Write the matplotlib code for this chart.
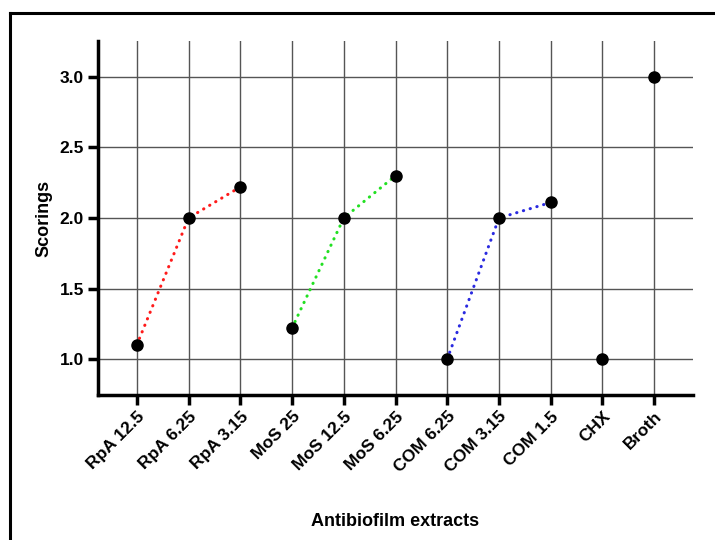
import matplotlib
matplotlib.use('Agg')
import matplotlib.pyplot as plt
from matplotlib.lines import Line2D

plt.rcParams['font.family'] = ['Liberation Sans', 'DejaVu Sans']
plt.rcParams['font.weight'] = 'bold'

# categories and scores
labels = ['RpA 12.5', 'RpA 6.25', 'RpA 3.15', 'MoS 25', 'MoS 12.5', 'MoS 6.25',
          'COM 6.25', 'COM 3.15', 'COM 1.5', 'CHX', 'Broth']
scores = [1.1, 2.0, 2.22, 1.22, 2.0, 2.3, 1.0, 2.0, 2.11, 1.0, 3.0]

# groups joined by dotted lines
groups = [(0, 3, '#ff1a1a'), (3, 6, '#22e022'), (6, 9, '#2a2ae0')]

fig = plt.figure(figsize=(7.15, 5.4), dpi=100)
ax = fig.add_axes([98/715, 1 - 395/540, (693 - 98)/715, (395 - 41)/540])

xs = list(range(len(labels)))

ax.grid(True, color='#555555', lw=1)
ax.set_axisbelow(True)

for a, b, c in groups:
    ax.plot(xs[a:b], scores[a:b], color=c, lw=2.2, linestyle=(0, (0.1, 2.2)),
            dash_capstyle='round', zorder=3)

ax.plot(xs, scores, 'o', color='black', ms=8, ls='none', zorder=4)

ax.set_xlim(-0.75, 10.75)
ax.set_ylim(0.745, 3.255)
ax.set_yticks([1.0, 1.5, 2.0, 2.5, 3.0])
ax.set_yticklabels(['1.0', '1.5', '2.0', '2.5', '3.0'])
ax.set_xticks(xs)
ax.set_xticklabels(labels, rotation=45, ha='right', rotation_mode='anchor')

for s in ['top', 'right']:
    ax.spines[s].set_visible(False)
for s in ['left', 'bottom']:
    ax.spines[s].set_linewidth(2.5)
ax.tick_params(axis='both', direction='out', length=7, width=2.5, labelsize=12.5, pad=3)

ax.set_ylabel('Scorings', fontsize=13, fontweight='bold')
ax.set_xlabel('Antibiofilm extracts', fontsize=13, fontweight='bold')
ax.yaxis.set_label_coords(-0.077, 0.5)
ax.xaxis.set_label_coords(0.5, -0.333)

# outer frame (top and left edges)
fig.add_artist(Line2D([10/715, 1], [1 - 13/540, 1 - 13/540], color='black', lw=2.2,
                      transform=fig.transFigure))
fig.add_artist(Line2D([10/715, 10/715], [0, 1 - 13/540], color='black', lw=2.2,
                      transform=fig.transFigure))

fig.savefig('out.png', dpi=100)
